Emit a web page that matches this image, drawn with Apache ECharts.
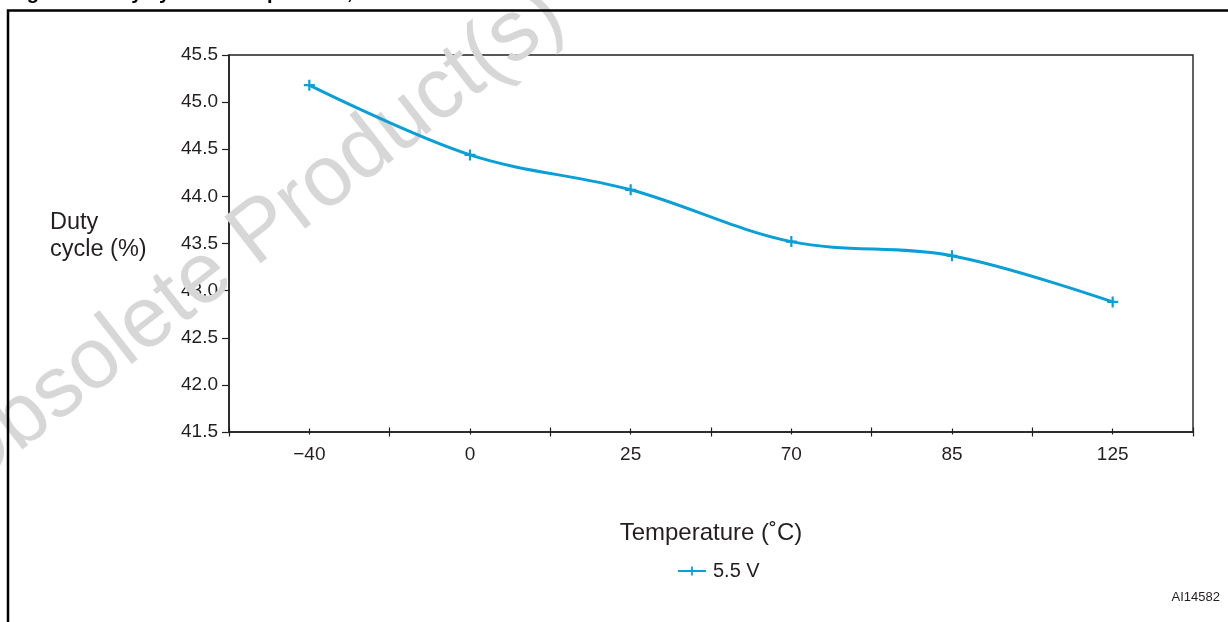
<!DOCTYPE html>
<html>
<head>
<meta charset="utf-8">
<script src="https://cdn.jsdelivr.net/npm/echarts@6/dist/echarts.min.js"></script>
<style>
html,body{margin:0;padding:0;background:#fff;}
#chart{width:1228px;height:622px;}
</style>
</head>
<body>
<div id="chart"></div>
<script>
var temperatures = ['\u221240', '0', '25', '70', '85', '125'];
var dutyCycle55V = [45.18, 44.44, 44.07, 43.52, 43.37, 42.88];
var yTicks = { min: 41.5, max: 45.5, interval: 0.5 };
var seriesName = '5.5 V';

var FONT = '"Liberation Sans", Arial, sans-serif';
var TXT = '#231f20';
var BLUE = '#0a9fd6';
var plus = 'path://M4.4,0H6.6V4.4H11V6.6H6.6V11H4.4V6.6H0V4.4H4.4Z';

var chart = echarts.init(document.getElementById('chart'), null, { renderer: 'canvas' });

function tickAxis(inside, len, align) {
  return {
    type: 'category', data: temperatures, position: 'bottom', gridIndex: 0,
    boundaryGap: true,
    axisLine: { show: false },
    axisLabel: { show: false },
    splitLine: { show: false },
    axisTick: { show: true, inside: inside, length: len, alignWithLabel: align,
      lineStyle: { color: TXT, width: 1.2 } }
  };
}

chart.setOption({
  animation: false,
  backgroundColor: '#ffffff',
  textStyle: { fontFamily: FONT },
  grid: {
    left: 229, right: 35, top: 55, bottom: 190,
    show: true, borderColor: TXT, borderWidth: 1.4, backgroundColor: 'transparent'
  },
  legend: {
    data: [seriesName],
    left: 672, top: 556,
    itemWidth: 28, itemHeight: 11,
    textStyle: { fontSize: 20, color: TXT, fontFamily: FONT, padding: [0, 0, 0, 2] }
  },
  xAxis: [
    {
      type: 'category', data: temperatures, position: 'bottom', boundaryGap: true,
      axisLine: { show: true, lineStyle: { color: TXT, width: 1.6 } },
      axisTick: { show: true, length: 4.5, lineStyle: { color: TXT, width: 1.2 } },
      axisLabel: { fontSize: 19, color: TXT, margin: 13, fontFamily: FONT },
      splitLine: { show: false }
    },
    tickAxis(true, 4.5, false),
    tickAxis(false, 2.5, true),
    tickAxis(true, 3.5, true)
  ],
  yAxis: {
    type: 'value', min: yTicks.min, max: yTicks.max, interval: yTicks.interval,
    axisLine: { show: true, lineStyle: { color: TXT, width: 1.6 } },
    axisTick: { show: true, length: 7, lineStyle: { color: TXT, width: 1.2 } },
    axisLabel: { fontSize: 19, color: TXT, margin: 11, fontFamily: FONT,
      formatter: function (v) { return v.toFixed(1); } },
    splitLine: { show: false }
  },
  series: [{
    name: seriesName,
    type: 'line',
    data: dutyCycle55V,
    smooth: 0.35,
    symbol: plus,
    symbolSize: 11,
    showAllSymbol: true,
    lineStyle: { color: BLUE, width: 3 },
    itemStyle: { color: BLUE },
    z: 5
  }],
  graphic: [
    {
      type: 'text', z: 1, x: 252, y: 240, rotation: 38 * Math.PI / 180,
      style: { text: 'Obsolete Product(s)', fontSize: 86, fontFamily: FONT,
        fill: '#d7d7d7', align: 'center', verticalAlign: 'middle' }
    },
    {
      type: 'polyline', z: 10,
      shape: { points: [[8, 622], [8, 10.5], [1230, 10.5]] },
      style: { stroke: '#000', lineWidth: 2.5, fill: null }
    },
    {
      type: 'text', z: 10, x: 9, y: -7,
      style: { text: 'Figure 9. Duty cycle vs temperature, VCC = 5.5 V', fontSize: 20,
        fontWeight: 'bold', fontFamily: FONT, fill: '#000', verticalAlign: 'middle' }
    },
    {
      type: 'text', z: 10, x: 50, y: 236,
      style: { text: 'Duty\ncycle (%)', fontSize: 23.5, lineHeight: 27, fontFamily: FONT,
        fill: TXT, align: 'left', verticalAlign: 'middle' }
    },
    {
      type: 'text', z: 10, x: 711, y: 533,
      style: { text: 'Temperature (\u02daC)', fontSize: 24, fontFamily: FONT,
        fill: TXT, align: 'center', verticalAlign: 'middle' }
    },
    {
      type: 'text', z: 10, x: 1220, y: 597,
      style: { text: 'AI14582', fontSize: 13, fontFamily: FONT,
        fill: TXT, align: 'right', verticalAlign: 'middle' }
    }
  ]
});
</script>
</body>
</html>
